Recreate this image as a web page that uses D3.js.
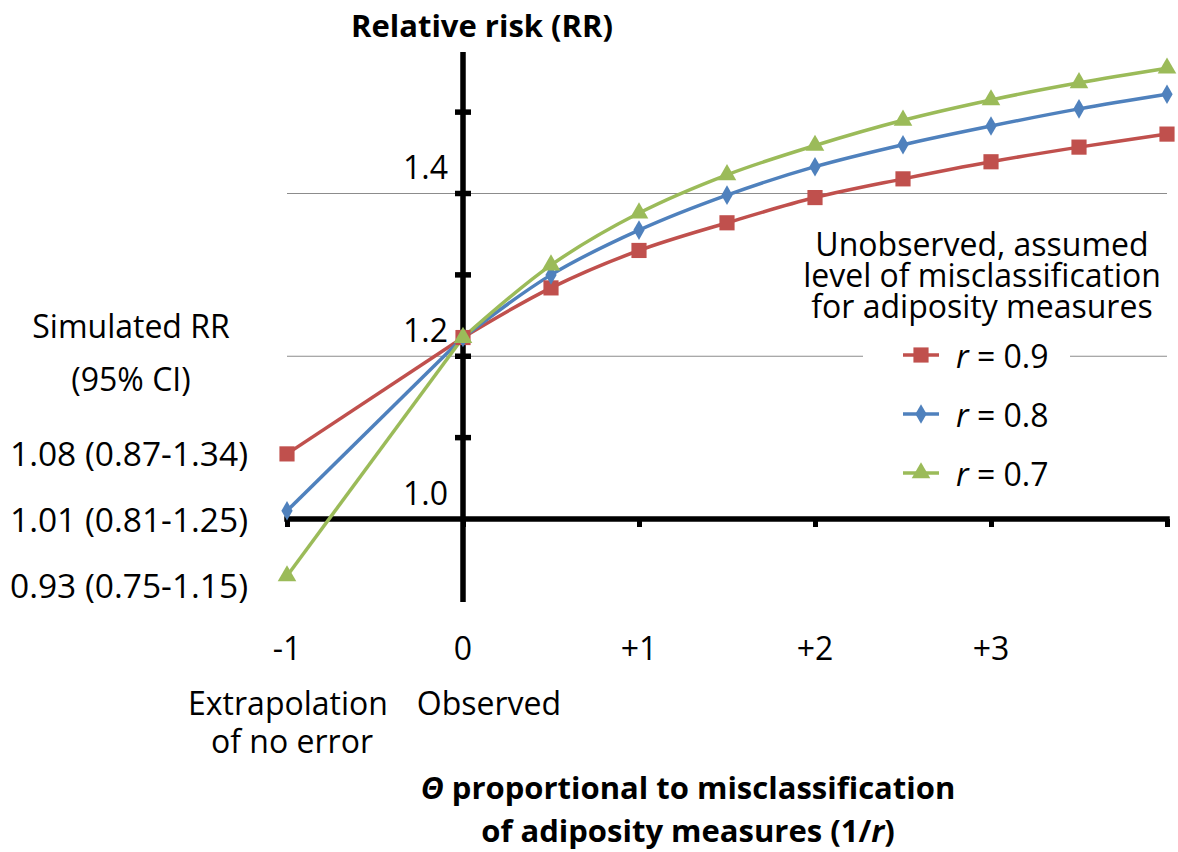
<!DOCTYPE html>
<html>
<head>
<meta charset="utf-8">
<script src="https://cdn.jsdelivr.net/npm/d3@7"></script>
<style>
  html, body { margin: 0; padding: 0; background: #fff; }
  svg { display: block; font-family: "Open Sans", Lato, sans-serif; }
</style>
</head>
<body>
<svg id="chart" width="1178" height="852"></svg>
<script>
// ---------------- data ----------------
const thetaObserved = [0, 0.5, 1, 1.5, 2, 2.5, 3, 3.5, 4];
const thetaExtrap = -1;
const rrR09 = [1.223, 1.284, 1.330, 1.364, 1.395, 1.418, 1.439, 1.457, 1.473];
const rrR08 = [1.223, 1.300, 1.355, 1.398, 1.433, 1.460, 1.483, 1.504, 1.522];
const rrR07 = [1.223, 1.312, 1.376, 1.423, 1.459, 1.490, 1.515, 1.536, 1.554];
const rrExtrap = [1.08, 1.01, 0.93];
const seriesNames = ["r = 0.9", "r = 0.8", "r = 0.7"];
const simulatedLabels = ["1.08 (0.87-1.34)", "1.01 (0.81-1.25)", "0.93 (0.75-1.15)"];
const xTickValues = [-1, 0, 1, 2, 3, 4];
const xTickLabels = ["-1", "0", "+1", "+2", "+3", ""];
const yLabelValues = [1.0, 1.2, 1.4];
const yTickValues = [1.1, 1.2, 1.3, 1.4, 1.5];
const gridValues = [1.2, 1.4];

// ---------------- setup ----------------
const svg = d3.select("#chart");
const x = d3.scaleLinear().domain([-1, 4]).range([287, 1167]);
const y = d3.scaleLinear().domain([1.0, 1.4]).range([519, 193.5]);
const colors = ["#C0504D", "#4F81BD", "#9BBB59"];
const markers = [d3.symbolSquare, d3.symbolDiamond, d3.symbolTriangle];
const markerSizes = [230, 110, 150];
const FS = 32;

// gridlines
svg.append("g").selectAll("line").data(gridValues).join("line")
  .attr("x1", x(-1)).attr("x2", x(4))
  .attr("y1", d => y(d)).attr("y2", d => y(d))
  .attr("stroke", "#8c8c8c").attr("stroke-width", 1.2);

// x axis
const xAxis = d3.axisBottom(x).tickValues(xTickValues).tickFormat("").tickSize(8).tickSizeOuter(0);
const gx = svg.append("g").attr("transform", `translate(0,${y(1.0)})`).call(xAxis);
gx.select(".domain").attr("stroke", "#000").attr("stroke-width", 5.5).attr("stroke-linecap", "square")
  .attr("d", `M${x(-1)},0H${x(4)}`);
gx.selectAll(".tick line").attr("stroke", "#000").attr("stroke-width", 5).attr("y1", 0);

// y axis (at theta = 0)
const yAxisMin = 0.898, yAxisMax = 1.574;
svg.append("line")
  .attr("x1", x(0)).attr("x2", x(0))
  .attr("y1", y(yAxisMin)).attr("y2", y(yAxisMax))
  .attr("stroke", "#000").attr("stroke-width", 5.5);
svg.append("g").selectAll("line").data(yTickValues).join("line")
  .attr("x1", x(0) - 8).attr("x2", x(0) + 8)
  .attr("y1", d => y(d)).attr("y2", d => y(d))
  .attr("stroke", "#000").attr("stroke-width", 5.5);

// y labels
svg.append("g").selectAll("text").data(yLabelValues).join("text")
  .attr("x", x(0) - 15).attr("y", d => y(d) - 27)
  .attr("text-anchor", "end").attr("dominant-baseline", "central")
  .attr("font-size", FS).attr("fill", "#000")
  .text(d => d.toFixed(1));

// x tick labels
svg.append("g").selectAll("text").data(xTickValues).join("text")
  .attr("x", d => x(d)).attr("y", 647)
  .attr("text-anchor", "middle").attr("dominant-baseline", "central")
  .attr("font-size", FS).attr("fill", "#000")
  .text((d, i) => xTickLabels[i]);

// series lines
const allSeries = [rrR09, rrR08, rrR07];
const lineSmooth = d3.line().x(d => x(d[0])).y(d => y(d[1])).curve(d3.curveCatmullRom.alpha(0.5));
allSeries.forEach((vals, i) => {
  const pts = thetaObserved.map((t, j) => [t, vals[j]]);
  svg.append("line")
    .attr("x1", x(thetaExtrap)).attr("y1", y(rrExtrap[i]))
    .attr("x2", x(0)).attr("y2", y(vals[0]))
    .attr("stroke", colors[i]).attr("stroke-width", 3.5);
  svg.append("path").datum(pts).attr("d", lineSmooth)
    .attr("fill", "none").attr("stroke", colors[i]).attr("stroke-width", 3.5);
});
allSeries.forEach((vals, i) => {
  const pts = [[thetaExtrap, rrExtrap[i]]].concat(thetaObserved.map((t, j) => [t, vals[j]]));
  svg.append("g").selectAll("path").data(pts).join("path")
    .attr("d", d3.symbol().type(markers[i]).size(markerSizes[i]))
    .attr("transform", d => `translate(${x(d[0])},${y(d[1])})`)
    .attr("fill", colors[i]);
});

// legend
const lg = svg.append("g");
lg.append("rect").attr("x", 863).attr("y", 330).attr("width", 207).attr("height", 165).attr("fill", "#fff");
const legendTitle = ["Unobserved, assumed", "level of misclassification", "for adiposity measures"];
lg.selectAll("text.lt").data(legendTitle).join("text").attr("class", "lt")
  .attr("x", 982).attr("y", (d, i) => 243 + i * 31)
  .attr("text-anchor", "middle").attr("dominant-baseline", "central")
  .attr("font-size", FS).text(d => d);
seriesNames.forEach((name, i) => {
  const cy = 355 + i * 59;
  lg.append("line").attr("x1", 903).attr("x2", 939).attr("y1", cy).attr("y2", cy)
    .attr("stroke", colors[i]).attr("stroke-width", 3.5);
  lg.append("path").attr("d", d3.symbol().type(markers[i]).size(markerSizes[i]))
    .attr("transform", `translate(921,${cy})`).attr("fill", colors[i]);
  const t = lg.append("text").attr("x", 956).attr("y", cy).attr("dominant-baseline", "central")
    .attr("font-size", FS);
  const parts = name.split(" = ");
  t.append("tspan").attr("font-style", "italic").text(parts[0]);
  t.append("tspan").text(" = " + parts[1]);
});

// left annotation
svg.append("text").attr("x", 131).attr("y", 325).attr("text-anchor", "middle")
  .attr("dominant-baseline", "central").attr("font-size", FS).text("Simulated RR");
svg.append("text").attr("x", 131).attr("y", 378).attr("text-anchor", "middle")
  .attr("dominant-baseline", "central").attr("font-size", FS).text("(95% CI)");
svg.append("g").selectAll("text").data(simulatedLabels).join("text")
  .attr("x", 10).attr("y", (d, i) => 453 + i * 66)
  .attr("dominant-baseline", "central").attr("font-size", 33.5).text(d => d);

// x annotations
svg.append("text").attr("x", 288).attr("y", 702).attr("text-anchor", "middle")
  .attr("dominant-baseline", "central").attr("font-size", FS).text("Extrapolation");
svg.append("text").attr("x", 292).attr("y", 740).attr("text-anchor", "middle")
  .attr("dominant-baseline", "central").attr("font-size", FS).text("of no error");
svg.append("text").attr("x", 489).attr("y", 702).attr("text-anchor", "middle")
  .attr("dominant-baseline", "central").attr("font-size", FS).text("Observed");

// axis titles
svg.append("text").attr("x", 482).attr("y", 25).attr("text-anchor", "middle")
  .attr("dominant-baseline", "central").attr("font-size", 31).attr("font-weight", "bold")
  .text("Relative risk (RR)");
const xt1 = svg.append("text").attr("x", 688).attr("y", 787).attr("text-anchor", "middle")
  .attr("dominant-baseline", "central").attr("font-size", 31).attr("font-weight", "bold");
xt1.append("tspan").attr("font-style", "italic").text("Θ");
xt1.append("tspan").text(" proportional to misclassification");
const xt2 = svg.append("text").attr("x", 688).attr("y", 830).attr("text-anchor", "middle")
  .attr("dominant-baseline", "central").attr("font-size", 31).attr("font-weight", "bold");
xt2.append("tspan").text("of adiposity measures (1/");
xt2.append("tspan").attr("font-style", "italic").text("r");
xt2.append("tspan").text(")");
</script>
</body>
</html>
